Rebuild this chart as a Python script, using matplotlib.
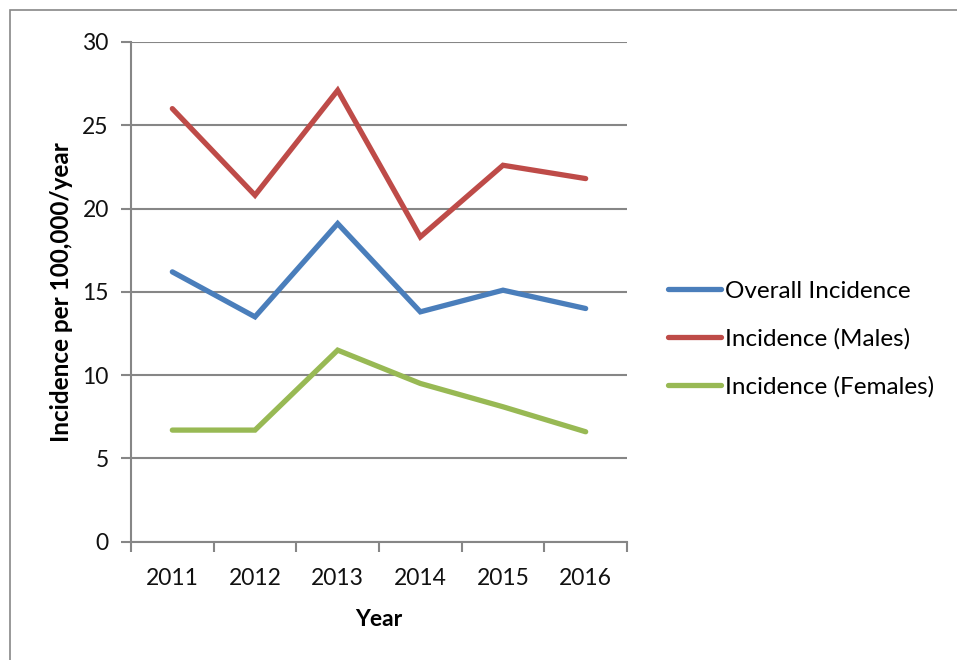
import matplotlib.pyplot as plt
from matplotlib.patches import Rectangle

years = ["2011", "2012", "2013", "2014", "2015", "2016"]
overall = [16.2, 13.5, 19.1, 13.8, 15.1, 14.0]
males = [26.0, 20.8, 27.1, 18.3, 22.6, 21.8]
females = [6.7, 6.7, 11.5, 9.5, 8.1, 6.6]

series = [
    ("Overall Incidence", overall, "#4A7EBB"),
    ("Incidence (Males)", males, "#BE4B48"),
    ("Incidence (Females)", females, "#98B954"),
]

plt.rcParams["font.family"] = ["Lato", "DejaVu Sans"]
grid_col = "#868686"

W, H = 957, 660
fig = plt.figure(figsize=(W / 100, H / 100), dpi=100)
ax = fig.add_axes([131 / W, 1 - 541.7 / H, (627 - 131) / W, (541.7 - 42) / H])

x = range(len(years))
for name, vals, col in series:
    ax.plot(x, vals, color=col, lw=3.8, solid_capstyle="round",
            solid_joinstyle="miter", label=name)

ax.set_xlim(-0.5, len(years) - 0.5)
ax.set_ylim(0, 30)
ax.set_yticks(range(0, 31, 5))
ax.set_xticks(x)
ax.set_xticklabels(years)
ax.set_xticks([i - 0.5 for i in range(len(years) + 1)], minor=True)
ax.tick_params(axis="x", which="major", length=0, pad=19, labelsize=16.5, labelcolor="#111111")
ax.tick_params(axis="x", which="minor", length=7, width=1.5, color=grid_col, direction="out")
ax.tick_params(axis="y", length=7, width=1.5, color=grid_col, pad=9, labelsize=16.5,
               labelcolor="#111111")
ax.grid(axis="y", color=grid_col, lw=1.5)
ax.set_axisbelow(True)
for side in ("top", "right"):
    ax.spines[side].set_visible(False)
for side in ("left", "bottom"):
    ax.spines[side].set_color(grid_col)
    ax.spines[side].set_linewidth(1.5)

ax.set_xlabel("Year", fontsize=16.5, fontweight="bold", labelpad=14)
ax.set_ylabel("Incidence per 100,000/year", fontsize=17.5, fontweight="bold", labelpad=7)

ax.legend(loc="center left", bbox_to_anchor=(668 / W, 1 - 339 / H),
          bbox_transform=fig.transFigure, frameon=False, fontsize=17.5,
          handlelength=2.2, handletextpad=0.15, labelspacing=1.08,
          borderaxespad=0, borderpad=0)

# chart-area frame, clipped by the right and bottom edges
fig.patches.append(Rectangle((10 / W, -0.1), 1.2, 1 - 10 / H + 0.1,
                             transform=fig.transFigure, fill=False,
                             edgecolor="#888888", lw=1.2))

fig.savefig("out.png", dpi=100)
